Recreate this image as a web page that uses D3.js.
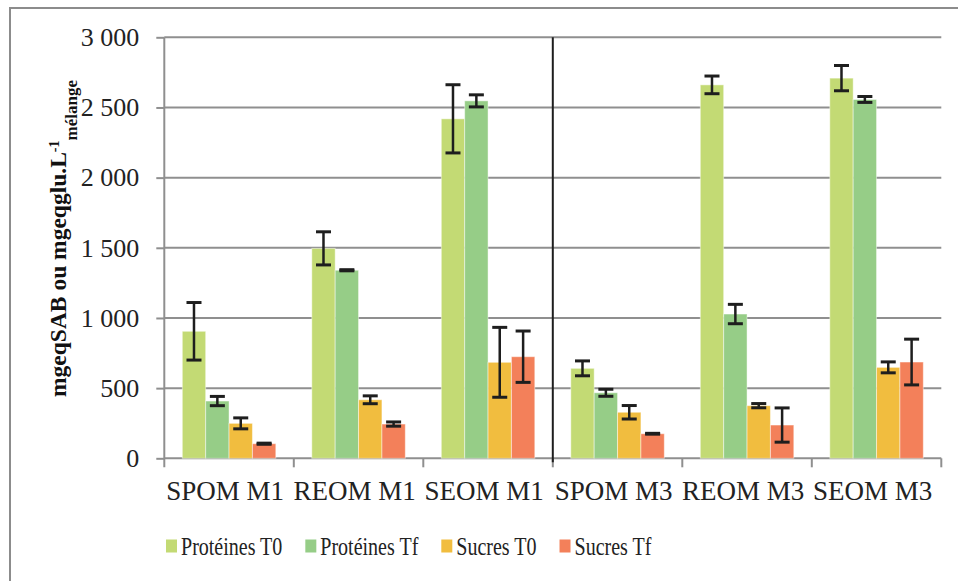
<!DOCTYPE html>
<html>
<head>
<meta charset="utf-8">
<script src="https://cdn.jsdelivr.net/npm/d3@7"></script>
<style>
    body { margin: 0; background: #fff; }
    svg { display: block; font-family: "Liberation Serif", "Times New Roman", serif; }
    .grid line { stroke: #8f8f8f; stroke-width: 2; }
    .axis path, .axis line { stroke: #8f8f8f; stroke-width: 2; }
    .axis text { fill: #222; }
</style>
</head>
<body>
<div id="chart"></div>
<script>

// categories and series
const sites = ['SPOM M1', 'REOM M1', 'SEOM M1', 'SPOM M3', 'REOM M3', 'SEOM M3'];
const seriesNames = ['Protéines T0', 'Protéines Tf', 'Sucres T0', 'Sucres Tf'];
const seriesColors = ['#c3da74', '#96cd87', '#f1bd3f', '#f3805a'];

// values (mean, error)
const protT0 = [905, 1496, 2419, 641, 2661, 2709];
const protT0Err = [205, 118, 243, 53, 63, 90];
const protTf = [408, 1340, 2547, 467, 1028, 2557];
const protTfErr = [33, 4, 43, 25, 69, 21];
const sucT0 = [249, 417, 684, 328, 375, 648];
const sucT0Err = [39, 28, 249, 48, 15, 39];
const sucTf = [104, 244, 724, 175, 237, 686];
const sucTfErr = [4, 15, 183, 3, 122, 163];

const yTicks = [0, 500, 1000, 1500, 2000, 2500, 3000];

const values = [protT0, protTf, sucT0, sucTf];
const errors = [protT0Err, protTfErr, sucT0Err, sucTfErr];

// flat table for drawing
let rows = [];
sites.forEach((s, i) => {
    seriesNames.forEach((n, j) => {
        rows.push({site: s, series: n, value: values[j][i], err: errors[j][i], color: seriesColors[j]});
    });
});

const width = 958;
const height = 581;
const plot = {left: 164.3, right: 941.3, top: 37.3, bottom: 458.3};

let svg = d3.select('#chart')
    .append('svg')
    .attr('width', width)
    .attr('height', height);

// outer frame (only top and left edges visible)
svg.append('path')
    .attr('d', `M10,${height} L10,8 L${width},8`)
    .attr('fill', 'none')
    .attr('stroke', '#8c8c8c')
    .attr('stroke-width', 2);

// scales
let x0 = d3.scaleBand()
    .domain(sites)
    .range([plot.left, plot.right])
    .padding(0);

let pad = x0.bandwidth() * 0.139;
let x1 = d3.scaleBand()
    .domain(seriesNames)
    .range([pad, x0.bandwidth() - pad])
    .padding(0);

let y = d3.scaleLinear()
    .domain([0, 3000])
    .range([plot.bottom, plot.top]);

let fr = d3.formatLocale({decimal: ',', thousands: ' ', grouping: [3], currency: ['', '€']});

// gridlines
svg.append('g')
    .attr('class', 'grid')
    .selectAll('line')
    .data(yTicks.filter(d => d > 0))
    .enter()
    .append('line')
    .attr('x1', plot.left)
    .attr('x2', plot.right)
    .attr('y1', d => y(d))
    .attr('y2', d => y(d));

// y axis
let gy = svg.append('g')
    .attr('class', 'axis y-axis')
    .attr('transform', `translate(${plot.left},0)`)
    .call(d3.axisLeft(y).tickValues(yTicks).tickSize(8).tickPadding(17).tickSizeOuter(0).tickFormat(fr.format(',')))
    .attr('font-family', null)
    .attr('font-size', null);
gy.select('.domain').attr('d', `M0,${plot.top}V${plot.bottom + 9}`);
gy.selectAll('text').style('font-size', '26px');

// x axis: ticks at group boundaries
let gx = svg.append('g')
    .attr('class', 'axis x-axis')
    .attr('transform', `translate(0,${plot.bottom})`);

gx.append('line')
    .attr('x1', plot.left)
    .attr('x2', plot.right)
    .attr('y1', 0)
    .attr('y2', 0);

gx.selectAll('.tick-mark')
    .data(sites.slice(1).concat(['end']))
    .enter()
    .append('line')
    .attr('class', 'tick-mark')
    .attr('x1', (d, i) => i < sites.length - 1 ? x0(d) : plot.right)
    .attr('x2', (d, i) => i < sites.length - 1 ? x0(d) : plot.right)
    .attr('y1', 0)
    .attr('y2', 9);

gx.selectAll('.site-label')
    .data(sites)
    .enter()
    .append('text')
    .attr('class', 'site-label')
    .attr('x', d => x0(d) + x0.bandwidth() / 2 - 4)
    .attr('y', 42)
    .attr('text-anchor', 'middle')
    .style('font-size', '27px')
    .text(d => d);

// bars
let groups = svg.append('g')
    .selectAll('.bar')
    .data(rows)
    .enter()
    .append('rect')
    .attr('class', 'bar')
    .attr('x', d => x0(d.site) + x1(d.series))
    .attr('y', d => y(d.value))
    .attr('width', x1.bandwidth())
    .attr('height', d => y(0) - y(d.value))
    .attr('fill', d => d.color)
    .attr('stroke', '#ffffff')
    .attr('stroke-opacity', 0.45)
    .attr('stroke-width', 1);

// error bars
let eb = svg.append('g')
    .selectAll('.err')
    .data(rows)
    .enter()
    .append('g')
    .attr('class', 'err')
    .attr('transform', d => `translate(${x0(d.site) + x1(d.series) + x1.bandwidth() / 2},0)`);

eb.append('line')
    .attr('y1', d => y(d.value + d.err))
    .attr('y2', d => y(d.value - d.err))
    .attr('stroke', '#1e1e1e')
    .attr('stroke-width', 2.5);

eb.selectAll('.cap')
    .data(d => [d.value + d.err, d.value - d.err])
    .enter()
    .append('line')
    .attr('class', 'cap')
    .attr('x1', -7.5)
    .attr('x2', 7.5)
    .attr('y1', d => y(d))
    .attr('y2', d => y(d))
    .attr('stroke', '#1e1e1e')
    .attr('stroke-width', 3);

// divider between M1 and M3
svg.append('line')
    .attr('x1', x0('SPOM M3'))
    .attr('x2', x0('SPOM M3'))
    .attr('y1', plot.top)
    .attr('y2', plot.bottom + 4)
    .attr('stroke', '#1e1e1e')
    .attr('stroke-width', 2);

// y title
let yt = svg.append('text')
    .attr('transform', 'translate(66,397) rotate(-90)')
    .attr('fill', '#111')
    .style('font-weight', 'bold')
    .style('font-size', '23.5px');
yt.append('tspan').text('mgeqSAB ou mgeqglu.L');
yt.append('tspan').attr('dy', -7).style('font-size', '14px').text('-1');
yt.append('tspan').attr('dy', 18).style('font-size', '17px').text('mélange');

// legend
let lx = 166;
seriesNames.forEach((n, i) => {
    let lg = svg.append('g').attr('class', 'legend');
    lg.append('rect')
        .attr('x', lx)
        .attr('y', 539.5)
        .attr('width', 11)
        .attr('height', 13)
        .attr('fill', seriesColors[i]);
    let t = lg.append('text')
        .attr('transform', `translate(${lx + 15},555) scale(0.77,1)`)
        .attr('fill', '#222')
        .style('font-size', '26px')
        .text(n);
    lx += 15 + t.node().getComputedTextLength() * 0.77 + 23;
});

</script>
</body>
</html>
